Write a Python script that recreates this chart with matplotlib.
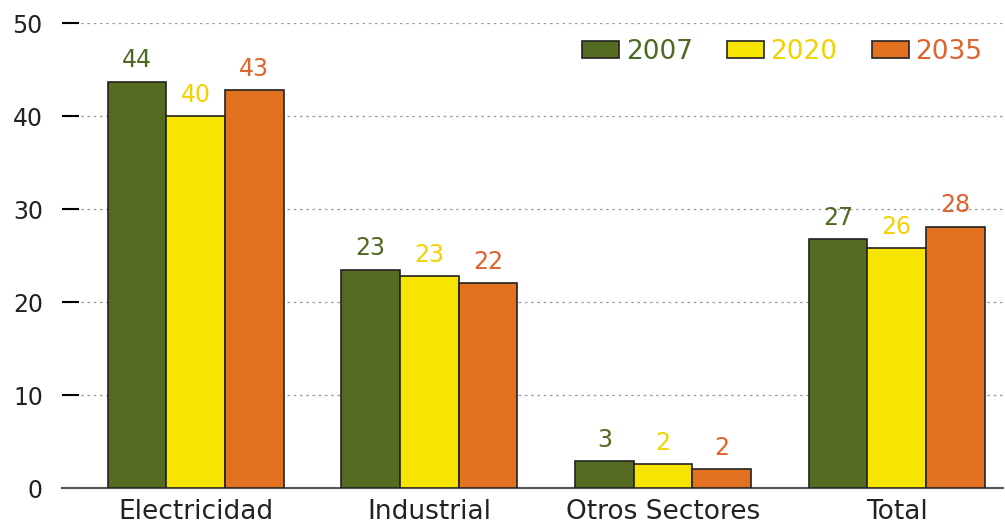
import matplotlib.pyplot as plt
import numpy as np

plt.rcParams["font.family"] = ["DejaVu Sans"]

categories = ["Electricidad", "Industrial", "Otros Sectores", "Total"]
years = ["2007", "2020", "2035"]
v2007 = [43.7, 23.5, 2.9, 26.8]
v2020 = [40.0, 22.8, 2.6, 25.8]
v2035 = [42.8, 22.0, 2.0, 28.1]
lab2007 = [44, 23, 3, 27]
lab2020 = [40, 23, 2, 26]
lab2035 = [43, 22, 2, 28]

fills = ["#556B22", "#F7E400", "#E2721F"]
text_cols = ["#4E6A22", "#F2D200", "#E0622C"]

fig = plt.figure(figsize=(10.05, 5.27), dpi=100)
ax = fig.add_axes([0.062, 0.074, 0.936, 0.882])

x = np.arange(len(categories))
w = 0.251
series = [v2007, v2020, v2035]
labels = [lab2007, lab2020, lab2035]
for i, (vals, labs) in enumerate(zip(series, labels)):
    pos = x + (i - 1) * w
    bars = ax.bar(pos, vals, w, color=fills[i], edgecolor="#222222", linewidth=1.2,
                  label=years[i], zorder=3)
    for b, lab in zip(bars, labs):
        ax.text(b.get_x() + b.get_width() / 2, b.get_height() + 1.0, str(lab),
                ha="center", va="bottom", fontsize=17, color=text_cols[i], zorder=4)

ax.set_xlim(-0.571, 3.455)
ax.set_ylim(0, 50)
ax.set_yticks([0, 10, 20, 30, 40, 50])
ax.set_xticks(x)
ax.set_xticklabels(categories, fontsize=19, color="#222222")
ax.tick_params(axis="x", length=0, pad=8)
ax.tick_params(axis="y", direction="in", length=12, width=1.5, labelsize=17,
               labelcolor="#222222", pad=14)
ax.yaxis.grid(True, linestyle=(0, (2, 3)), color="#999999", linewidth=0.9, zorder=0)

for s in ["top", "right", "left"]:
    ax.spines[s].set_visible(False)
ax.spines["bottom"].set_color("#555555")
ax.spines["bottom"].set_linewidth(1.5)

leg = ax.legend(loc="upper right", bbox_to_anchor=(0.995, 1.0), ncol=3, frameon=False,
                fontsize=19, handlelength=1.4, handleheight=0.6, handletextpad=0.25,
                columnspacing=1.3, labelcolor=text_cols, borderaxespad=0.2)

fig.savefig("out.png", dpi=100)
